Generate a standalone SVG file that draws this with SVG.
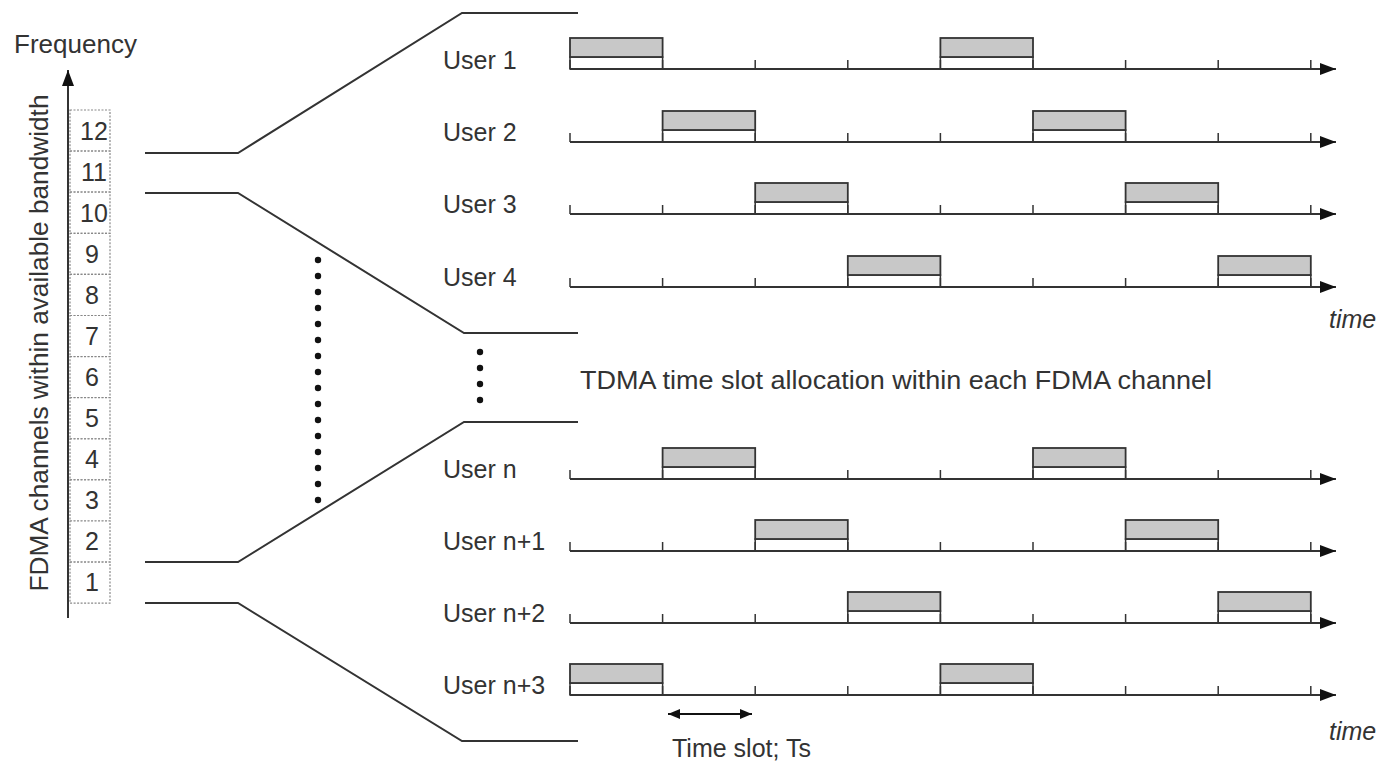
<svg xmlns="http://www.w3.org/2000/svg" width="1381" height="761" viewBox="0 0 1381 761">
<style>
text{font-family:"Liberation Sans",Arial,sans-serif;fill:#333;}
.lbl{font-size:25px;}
.num{font-size:25px;text-anchor:middle;}
.it{font-size:25px;font-style:italic;}
.ln{stroke:#333;stroke-width:2;fill:none;}
.ax{stroke:#333;stroke-width:2;fill:none;marker-end:url(#ah);}
.tk{stroke:#333;stroke-width:1.5;}
.gr{fill:#c8c8c8;stroke:#333;stroke-width:1.8;}
.wh{fill:#fff;stroke:#333;stroke-width:1.5;}
.ch{fill:#fff;stroke:#888;stroke-width:1.2;stroke-dasharray:2 1.5;}
.dot{fill:#111;}
</style>
<defs>
<marker id="ah" markerWidth="16" markerHeight="12" refX="16" refY="6" orient="auto" markerUnits="userSpaceOnUse">
<path d="M0,0 L16,6 L0,12 Z" fill="#111"/>
</marker>
<marker id="ah2" markerWidth="12" markerHeight="10" refX="12" refY="5" orient="auto-start-reverse" markerUnits="userSpaceOnUse">
<path d="M0,0 L12,5 L0,10 Z" fill="#111"/>
</marker>
<g id="tks">
<line class="tk" x1="570" y1="-9" x2="570" y2="0"/>
<line class="tk" x1="662.6" y1="-9" x2="662.6" y2="0"/>
<line class="tk" x1="755.2" y1="-9" x2="755.2" y2="0"/>
<line class="tk" x1="847.8" y1="-9" x2="847.8" y2="0"/>
<line class="tk" x1="940.4" y1="-9" x2="940.4" y2="0"/>
<line class="tk" x1="1033" y1="-9" x2="1033" y2="0"/>
<line class="tk" x1="1125.6" y1="-9" x2="1125.6" y2="0"/>
<line class="tk" x1="1218.2" y1="-9" x2="1218.2" y2="0"/>
<line class="tk" x1="1310.8" y1="-9" x2="1310.8" y2="0"/>
<line class="ax" x1="570" y1="0" x2="1336" y2="0"/>
</g>
</defs>
<rect width="1381" height="761" fill="#fff"/>

<g id="frequency-axis">
<text class="lbl" x="14" y="53" textLength="123" lengthAdjust="spacingAndGlyphs">Frequency</text>
<line class="ax" x1="68" y1="618" x2="68" y2="70"/>
<text class="lbl" x="48" y="343" text-anchor="middle" transform="rotate(-90 48 343)" textLength="497" lengthAdjust="spacingAndGlyphs">FDMA channels within available bandwidth</text>
</g>

<g id="channels">
<rect class="ch" x="70" y="110" width="40" height="41.1"/><text class="num" x="94" y="140">12</text>
<rect class="ch" x="70" y="151.1" width="40" height="41.1"/><text class="num" x="94" y="181">11</text>
<rect class="ch" x="70" y="192.2" width="40" height="41.1"/><text class="num" x="94" y="222">10</text>
<rect class="ch" x="70" y="233.3" width="40" height="41.1"/><text class="num" x="92" y="263">9</text>
<rect class="ch" x="70" y="274.4" width="40" height="41.1"/><text class="num" x="92" y="304">8</text>
<rect class="ch" x="70" y="315.5" width="40" height="41.1"/><text class="num" x="92" y="345">7</text>
<rect class="ch" x="70" y="356.6" width="40" height="41.1"/><text class="num" x="92" y="386">6</text>
<rect class="ch" x="70" y="397.7" width="40" height="41.1"/><text class="num" x="92" y="427">5</text>
<rect class="ch" x="70" y="438.8" width="40" height="41.1"/><text class="num" x="92" y="468">4</text>
<rect class="ch" x="70" y="479.9" width="40" height="41.1"/><text class="num" x="92" y="509">3</text>
<rect class="ch" x="70" y="521" width="40" height="41.1"/><text class="num" x="92" y="550">2</text>
<rect class="ch" x="70" y="562.1" width="40" height="41.1"/><text class="num" x="92" y="591">1</text>
<line x1="68" y1="110" x2="68" y2="604" stroke="#333" stroke-width="2"/>
</g>

<g id="connectors">
<polyline class="ln" points="145,153 238,153 462,13 578,13"/>
<polyline class="ln" points="145,193 238,193 464,333 578,333"/>
<polyline class="ln" points="145,562 238,562 464,422 578,422"/>
<polyline class="ln" points="145,603 238,603 462,741 578,741"/>
<g class="dot">
<circle cx="318" cy="260" r="3.2"/><circle cx="318" cy="276" r="3.2"/><circle cx="318" cy="292" r="3.2"/><circle cx="318" cy="308" r="3.2"/>
<circle cx="318" cy="324" r="3.2"/><circle cx="318" cy="340" r="3.2"/><circle cx="318" cy="356" r="3.2"/><circle cx="318" cy="372" r="3.2"/>
<circle cx="318" cy="388" r="3.2"/><circle cx="318" cy="404" r="3.2"/><circle cx="318" cy="420" r="3.2"/><circle cx="318" cy="436" r="3.2"/>
<circle cx="318" cy="452" r="3.2"/><circle cx="318" cy="468" r="3.2"/><circle cx="318" cy="484" r="3.2"/><circle cx="318" cy="500" r="3.2"/>
<circle cx="480" cy="352" r="3.2"/><circle cx="480" cy="368" r="3.2"/><circle cx="480" cy="384" r="3.2"/><circle cx="480" cy="400" r="3.2"/>
</g>
<line x1="668" y1="714" x2="752" y2="714" stroke="#111" stroke-width="2" marker-start="url(#ah2)" marker-end="url(#ah2)"/>
</g>

<g id="user-1">
<text class="lbl" x="443" y="69">User 1</text>
<rect class="wh" x="570" y="57" width="92.6" height="12"/><rect class="gr" x="570" y="38" width="92.6" height="19"/>
<rect class="wh" x="940.4" y="57" width="92.6" height="12"/><rect class="gr" x="940.4" y="38" width="92.6" height="19"/>
<use href="#tks" y="69"/>
</g>
<g id="user-2">
<text class="lbl" x="443" y="141">User 2</text>
<rect class="wh" x="662.6" y="130" width="92.6" height="12"/><rect class="gr" x="662.6" y="111" width="92.6" height="19"/>
<rect class="wh" x="1033" y="130" width="92.6" height="12"/><rect class="gr" x="1033" y="111" width="92.6" height="19"/>
<use href="#tks" y="142"/>
</g>
<g id="user-3">
<text class="lbl" x="443" y="213">User 3</text>
<rect class="wh" x="755.2" y="202" width="92.6" height="12"/><rect class="gr" x="755.2" y="183" width="92.6" height="19"/>
<rect class="wh" x="1125.6" y="202" width="92.6" height="12"/><rect class="gr" x="1125.6" y="183" width="92.6" height="19"/>
<use href="#tks" y="214"/>
</g>
<g id="user-4">
<text class="lbl" x="443" y="286">User 4</text>
<rect class="wh" x="847.8" y="275" width="92.6" height="12"/><rect class="gr" x="847.8" y="256" width="92.6" height="19"/>
<rect class="wh" x="1218.2" y="275" width="92.6" height="12"/><rect class="gr" x="1218.2" y="256" width="92.6" height="19"/>
<use href="#tks" y="287"/>
</g>
<text class="it" x="1329" y="328">time</text>

<text id="tdma-label" class="lbl" x="580" y="389" textLength="632" lengthAdjust="spacingAndGlyphs">TDMA time slot allocation within each FDMA channel</text>

<g id="user-n">
<text class="lbl" x="443" y="478">User n</text>
<rect class="wh" x="662.6" y="467" width="92.6" height="12"/><rect class="gr" x="662.6" y="448" width="92.6" height="19"/>
<rect class="wh" x="1033" y="467" width="92.6" height="12"/><rect class="gr" x="1033" y="448" width="92.6" height="19"/>
<use href="#tks" y="479"/>
</g>
<g id="user-n1">
<text class="lbl" x="443" y="550">User n+1</text>
<rect class="wh" x="755.2" y="539" width="92.6" height="12"/><rect class="gr" x="755.2" y="520" width="92.6" height="19"/>
<rect class="wh" x="1125.6" y="539" width="92.6" height="12"/><rect class="gr" x="1125.6" y="520" width="92.6" height="19"/>
<use href="#tks" y="551"/>
</g>
<g id="user-n2">
<text class="lbl" x="443" y="622">User n+2</text>
<rect class="wh" x="847.8" y="611" width="92.6" height="12"/><rect class="gr" x="847.8" y="592" width="92.6" height="19"/>
<rect class="wh" x="1218.2" y="611" width="92.6" height="12"/><rect class="gr" x="1218.2" y="592" width="92.6" height="19"/>
<use href="#tks" y="623"/>
</g>
<g id="user-n3">
<text class="lbl" x="443" y="694">User n+3</text>
<rect class="wh" x="570" y="683" width="92.6" height="12"/><rect class="gr" x="570" y="664" width="92.6" height="19"/>
<rect class="wh" x="940.4" y="683" width="92.6" height="12"/><rect class="gr" x="940.4" y="664" width="92.6" height="19"/>
<use href="#tks" y="695"/>
</g>
<text class="it" x="1329" y="740">time</text>
<text id="timeslot-label" class="lbl" x="672" y="757">Time slot; Ts</text>
</svg>
